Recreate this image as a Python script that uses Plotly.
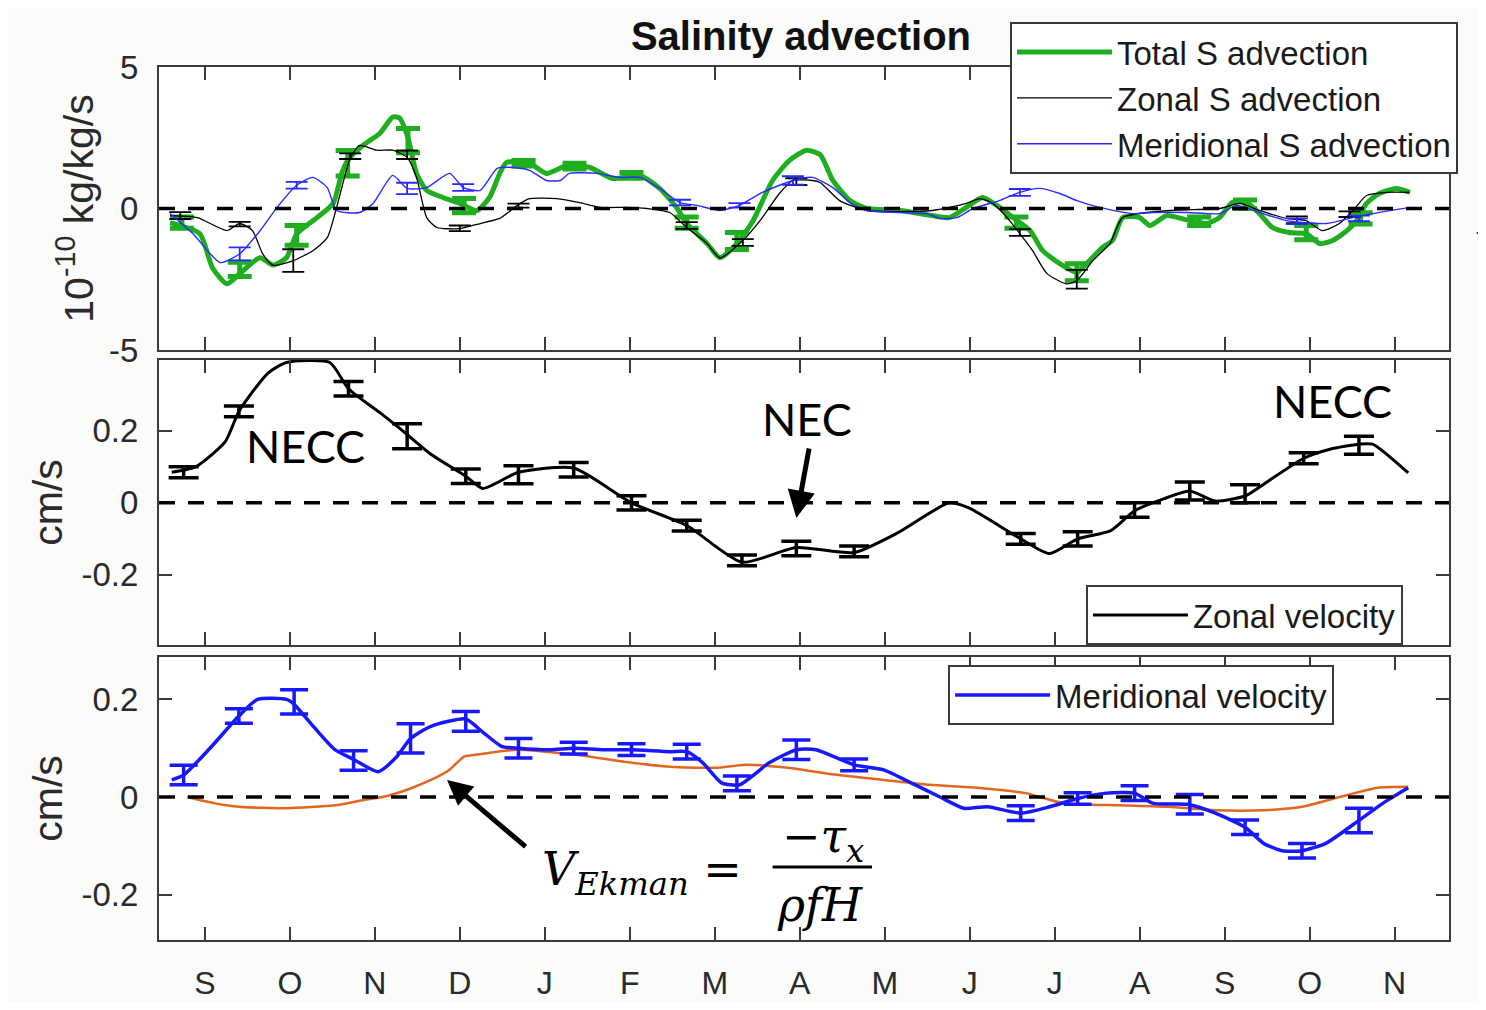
import plotly.graph_objects as go
from plotly.subplots import make_subplots

# ---------------- categories / ticks ----------------
month_labels = ["S", "O", "N", "D", "J", "F", "M", "A", "M", "J", "J", "A", "S", "O", "N"]
month_pos = list(range(len(month_labels)))

# ---------------- top panel: salinity advection (1e-10 kg/kg/s) ----------------
total_x = [-0.41, -0.06, 0.09, 0.26, 0.41, 0.65, 0.80, 0.96, 1.08, 1.32, 1.51, 1.61, 1.68, 1.86, 2.06,
           2.21, 2.29, 2.39, 2.49, 2.61, 2.80, 3.00, 3.20, 3.35, 3.47, 3.55, 3.82, 4.02, 4.26, 4.53,
           4.80, 5.12, 5.35, 5.55, 5.67, 5.91, 6.06, 6.26, 6.45, 6.68, 6.88, 7.08, 7.24, 7.39, 7.59,
           7.79, 8.18, 8.56, 8.76, 8.96, 9.15, 9.32, 9.51, 9.71, 9.86, 10.06, 10.26, 10.41, 10.56,
           10.68, 10.80, 11.00, 11.12, 11.32, 11.55, 11.79, 11.94, 12.09, 12.26, 12.41, 12.56, 12.76,
           12.96, 13.12, 13.27, 13.44, 13.55, 13.67, 13.82, 14.02, 14.18]
total_y = [-0.50, -0.89, -2.10, -2.66, -2.30, -1.74, -2.00, -1.74, -0.90, -0.32, 0.18, 1.24, 1.70, 2.23, 2.66,
           3.23, 3.20, 2.50, 1.24, 0.64, 0.39, 0.18, -0.07, 0.39, 1.24, 1.63, 1.60, 1.24, 1.52, 1.45,
           1.06, 1.17, 0.71, 0.04, -0.53, -1.24, -1.74, -1.24, -0.43, 0.99, 1.70, 2.06, 1.90, 0.99, 0.28,
           0.00, -0.07, -0.25, -0.32, 0.04, 0.39, 0.11, -0.32, -0.78, -1.49, -1.95, -2.25, -1.84, -1.38,
           -1.13, -0.32, -0.32, -0.60, -0.25, -0.40, -0.53, -0.32, 0.21, 0.21, -0.18, -0.67, -0.85,
           -0.89, -1.24, -1.13, -0.78, -0.43, 0.18, 0.53, 0.71, 0.57]
total_err_x = [-0.27, 0.41, 1.08, 1.68, 2.39, 3.05, 3.75, 4.35, 5.02, 5.67, 6.26, 9.55, 10.26, 11.70, 12.24, 12.96, 13.60]
total_err_y = [-0.50, -2.15, -0.95, 1.60, 2.40, 0.10, 1.60, 1.50, 1.17, -0.50, -1.15, -0.50, -2.25, -0.45, 0.15, -0.85, -0.35]
total_err_e = [0.20, 0.25, 0.35, 0.45, 0.43, 0.25, 0.10, 0.10, 0.10, 0.20, 0.30, 0.20, 0.30, 0.15, 0.15, 0.25, 0.20]

zonal_x = [-0.41, -0.09, 0.26, 0.41, 0.56, 0.68, 0.80, 1.04, 1.27, 1.44, 1.55, 1.71, 1.82, 2.02, 2.21,
           2.38, 2.49, 2.61, 2.73, 3.00, 3.24, 3.47, 3.55, 3.71, 3.82, 4.14, 4.41, 4.65, 4.96, 5.20,
           5.47, 5.67, 5.91, 6.06, 6.33, 6.56, 6.76, 6.92, 7.15, 7.24, 7.47, 7.79, 8.56, 8.96, 9.12,
           9.27, 9.44, 9.59, 9.74, 9.91, 10.14, 10.26, 10.45, 10.65, 10.80, 11.35, 11.94, 12.18, 12.41,
           12.73, 12.96, 13.15, 13.35, 13.51, 13.67, 13.91, 14.18]
zonal_y = [-0.25, -0.32, -0.78, -0.53, -0.78, -1.60, -2.00, -1.84, -1.49, -1.03, 0.04, 1.77, 2.23, 2.06, 2.06,
           1.80, 1.10, -0.32, -0.67, -0.71, -0.53, -0.35, -0.18, 0.18, 0.35, 0.35, 0.21, 0.04, 0.04, 0.00,
           -0.14, -0.67, -1.24, -1.74, -1.13, -0.32, 0.53, 0.99, 0.99, 0.92, 0.28, -0.07, -0.07, 0.18, 0.35,
           0.18, -0.32, -0.89, -1.49, -2.30, -2.66, -2.55, -1.84, -1.24, -0.32, -0.07, 0.00, 0.18, -0.07,
           -0.35, -0.43, -0.78, -0.53, -0.07, 0.46, 0.57, 0.57]
zonal_err_x = [-0.29, 0.41, 1.04, 1.71, 2.38, 3.00, 3.69, 5.67, 6.33, 6.96, 9.59, 10.26, 12.85, 13.47]
zonal_err_y = [-0.25, -0.55, -1.84, 1.85, 1.90, -0.70, 0.10, -0.60, -1.20, 0.95, -0.85, -2.50, -0.40, -0.20]
zonal_err_e = [0.12, 0.08, 0.40, 0.10, 0.15, 0.10, 0.07, 0.12, 0.12, 0.12, 0.12, 0.33, 0.12, 0.10]

merid_x = [-0.41, -0.14, 0.18, 0.41, 0.65, 0.85, 1.08, 1.27, 1.44, 1.55, 1.82, 1.98, 2.21, 2.38, 2.61,
           2.88, 3.04, 3.24, 3.44, 3.62, 3.82, 4.02, 4.18, 4.29, 4.61, 4.88, 5.12, 5.35, 5.59, 5.79,
           6.06, 6.29, 6.56, 6.92, 7.15, 7.39, 7.59, 7.79, 8.18, 8.49, 8.65, 8.85, 9.04, 9.35, 9.59,
           9.82, 10.06, 10.26, 10.53, 10.92, 11.15, 11.55, 11.94, 12.14, 12.41, 12.73, 12.96, 13.20,
           13.51, 13.74, 14.18]
merid_y = [-0.18, -0.89, -1.91, -1.60, -0.78, 0.04, 0.82, 1.10, 0.74, -0.07, -0.14, 0.18, 1.17, 0.71, 0.74,
           1.24, 0.74, 0.64, 1.42, 1.45, 1.35, 0.99, 0.99, 1.24, 1.24, 1.10, 1.10, 0.71, 0.21, 0.11,
           -0.07, 0.11, 0.57, 0.99, 1.10, 0.74, 0.21, -0.07, -0.14, -0.18, -0.35, -0.32, 0.00, 0.28, 0.57,
           0.71, 0.53, 0.28, 0.04, -0.18, -0.14, -0.14, -0.18, 0.11, -0.14, -0.43, -0.50, -0.53,
           -0.32, -0.18, 0.04]
merid_err_x = [0.41, 1.08, 2.38, 3.04, 5.59, 6.29, 6.92, 9.59, 12.85, 13.58]
merid_err_y = [-1.60, 0.82, 0.71, 0.74, 0.21, 0.11, 0.99, 0.57, -0.45, -0.35]
merid_err_e = [0.23, 0.12, 0.20, 0.12, 0.10, 0.08, 0.15, 0.12, 0.10, 0.10]

# ---------------- middle panel: zonal velocity (cm/s) ----------------
u_x = [-0.39, -0.11, 0.24, 0.40, 0.74, 0.96, 1.47, 1.69, 2.09, 2.38, 2.66, 3.07, 3.27, 3.69, 4.34,
       5.02, 5.67, 6.32, 6.96, 7.64, 8.14, 8.76, 8.99, 9.60, 9.94, 10.27, 10.66, 10.94, 11.28, 11.59,
       11.89, 12.24, 12.46, 12.93, 13.24, 13.58, 13.74, 14.16]
u_y = [0.085, 0.10, 0.17, 0.254, 0.36, 0.39, 0.39, 0.317, 0.245, 0.19, 0.135, 0.074, 0.04, 0.085, 0.097,
       0.0, -0.063, -0.165, -0.124, -0.138, -0.085, 0.0, -0.014, -0.10, -0.141, -0.10, -0.077, -0.022, 0.011, 0.033,
       0.005, 0.019, 0.052, 0.124, 0.149, 0.163, 0.163, 0.083]
u_err_x = [-0.25, 0.40, 1.69, 2.38, 3.07, 3.69, 4.34, 5.02, 5.67, 6.32, 6.96, 7.64, 9.60, 10.27, 10.94,
           11.59, 12.24, 12.93, 13.58]
u_err_y = [0.085, 0.254, 0.317, 0.185, 0.074, 0.078, 0.092, 0.0, -0.063, -0.16, -0.127, -0.135, -0.10, -0.10, -0.02,
           0.033, 0.025, 0.124, 0.16]
u_err_e = [0.015, 0.015, 0.02, 0.035, 0.02, 0.025, 0.02, 0.02, 0.015, 0.015, 0.02, 0.015, 0.015, 0.02, 0.02,
           0.025, 0.025, 0.015, 0.025]

# ---------------- bottom panel: meridional velocity and Ekman (cm/s) ----------------
v_x = [-0.39, -0.25, 0.06, 0.40, 0.62, 0.96, 1.05, 1.25, 1.53, 1.75, 2.04, 2.26, 2.42, 2.66, 3.07,
       3.27, 3.49, 3.69, 4.06, 4.34, 4.68, 5.02, 5.47, 5.67, 5.86, 6.08, 6.29, 6.64, 6.96, 7.19,
       7.64, 7.98, 8.31, 8.65, 8.93, 9.21, 9.60, 9.94, 10.27, 10.61, 10.94, 11.16, 11.56, 11.89, 12.24,
       12.46, 12.68, 12.91, 13.19, 13.58, 13.86, 14.16]
v_y = [0.035, 0.045, 0.10, 0.166, 0.20, 0.20, 0.19, 0.15, 0.097, 0.077, 0.052, 0.083, 0.12, 0.145, 0.16,
       0.133, 0.104, 0.10, 0.097, 0.10, 0.097, 0.097, 0.093, 0.093, 0.07, 0.029, 0.025, 0.07, 0.097, 0.097,
       0.066, 0.056, 0.029, 0.0, -0.023, -0.02, -0.033, -0.02, -0.003, 0.008, 0.008, -0.013, -0.015, -0.033, -0.062,
       -0.095, -0.11, -0.11, -0.095, -0.048, -0.013, 0.019]
v_err_x = [-0.25, 0.40, 1.05, 1.75, 2.42, 3.07, 3.69, 4.34, 5.02, 5.67, 6.26, 6.96, 7.64, 9.60, 10.27,
           10.94, 11.59, 12.24, 12.91, 13.58]
v_err_y = [0.045, 0.166, 0.195, 0.075, 0.12, 0.155, 0.10, 0.10, 0.097, 0.093, 0.028, 0.097, 0.066, -0.033, -0.003,
           0.008, -0.015, -0.062, -0.11, -0.048]
v_err_e = [0.02, 0.015, 0.025, 0.02, 0.03, 0.02, 0.02, 0.012, 0.012, 0.015, 0.015, 0.02, 0.012, 0.015, 0.012,
           0.015, 0.02, 0.015, 0.015, 0.025]

ek_x = [-0.21, 0.12, 0.40, 0.96, 1.53, 1.87, 2.09, 2.38, 2.66, 2.88, 3.05, 3.21, 3.67, 4.34, 4.91,
        5.47, 6.04, 6.36, 6.86, 7.41, 7.98, 8.53, 9.09, 9.66, 10.11, 10.78, 11.34, 11.89, 12.46, 12.91,
        13.35, 13.80, 14.16]
ek_y = [0.0, -0.013, -0.02, -0.023, -0.017, -0.006, 0.0, 0.015, 0.035, 0.056, 0.083, 0.087, 0.097, 0.087, 0.073,
        0.062, 0.06, 0.066, 0.06, 0.046, 0.035, 0.025, 0.019, 0.008, -0.013, -0.017, -0.02, -0.027, -0.027, -0.02,
        0.0, 0.019, 0.021]

# ---------------- styling ----------------
FONT = "Liberation Sans, Arial, sans-serif"
GREEN = "#1fae1f"
BLUE_THIN = "#2a2aff"
BLUE = "#1818ff"
ORANGE = "#e3661f"
AXC = "#3a3a3a"
TXT = "#2a2a2a"
FIG_W, FIG_H = 1478, 994   # page body keeps an 8 px margin

fig = make_subplots(rows=3, cols=1, shared_xaxes=True)


def add_err(x, y, e, color, thick, width, row):
    fig.add_trace(go.Scatter(x=x, y=y, mode="markers", marker=dict(size=1, color=color),
                             error_y=dict(type="data", array=e, color=color, thickness=thick, width=width),
                             showlegend=False, hoverinfo="skip"), row=row, col=1)


# top panel
fig.add_trace(go.Scatter(x=total_x, y=total_y, mode="lines", name="Total S advection",
                         line=dict(color=GREEN, width=5, shape="spline", smoothing=0.6), legend="legend"), row=1, col=1)
add_err(total_err_x, total_err_y, total_err_e, GREEN, 5, 12, 1)
fig.add_trace(go.Scatter(x=zonal_x, y=zonal_y, mode="lines", name="Zonal S advection",
                         line=dict(color="black", width=1.3, shape="spline", smoothing=0.6), legend="legend"), row=1, col=1)
add_err(zonal_err_x, zonal_err_y, zonal_err_e, "black", 1.8, 11, 1)
fig.add_trace(go.Scatter(x=merid_x, y=merid_y, mode="lines", name="Meridional S advection",
                         line=dict(color=BLUE_THIN, width=1.4, shape="spline", smoothing=0.6), legend="legend"), row=1, col=1)
add_err(merid_err_x, merid_err_y, merid_err_e, BLUE_THIN, 1.8, 11, 1)

# middle panel
fig.add_trace(go.Scatter(x=u_x, y=u_y, mode="lines", name="Zonal velocity",
                         line=dict(color="black", width=3, shape="spline", smoothing=0.6), legend="legend2"), row=2, col=1)
add_err(u_err_x, u_err_y, u_err_e, "black", 3.5, 15, 2)

# bottom panel
fig.add_trace(go.Scatter(x=ek_x, y=ek_y, mode="lines", name="Ekman",
                         line=dict(color=ORANGE, width=2.5, shape="spline", smoothing=0.6), showlegend=False), row=3, col=1)
fig.add_trace(go.Scatter(x=v_x, y=v_y, mode="lines", name="Meridional velocity",
                         line=dict(color=BLUE, width=3.5, shape="spline", smoothing=0.6), legend="legend3"), row=3, col=1)
add_err(v_err_x, v_err_y, v_err_e, BLUE, 3.5, 14, 3)

# axes
xcommon = dict(range=[-0.54, 14.64], tickmode="array", tickvals=month_pos, ticktext=month_labels,
               ticks="inside", ticklen=13, tickwidth=2, tickcolor=AXC, showline=True, linewidth=2,
               linecolor=AXC, mirror="ticks", showgrid=False, zeroline=False, automargin=False,
               tickfont=dict(family=FONT, size=32, color=TXT))
fig.update_xaxes(**xcommon)
fig.update_xaxes(showticklabels=False, row=1, col=1)
fig.update_xaxes(showticklabels=False, row=2, col=1)
fig.update_xaxes(ticklabelstandoff=14, row=3, col=1)

ycommon = dict(ticks="inside", ticklen=13, tickwidth=2, tickcolor=AXC, showline=True, linewidth=2,
               linecolor=AXC, mirror="ticks", showgrid=False, zeroline=False, ticklabelstandoff=12,
               tickfont=dict(family=FONT, size=33, color=TXT), automargin=False)
fig.update_yaxes(**ycommon)
fig.update_yaxes(range=[-5, 5], tickvals=[-5, 0, 5], ticktext=["-5", "0", "5"], domain=[0.6758, 1.0],
                 title=dict(text="10<sup>-10</sup> kg/kg/s", font=dict(family=FONT, size=41, color=TXT), standoff=3),
                 row=1, col=1)
fig.update_yaxes(range=[-0.395, 0.397], tickvals=[-0.2, 0, 0.2], ticktext=["-0.2", "0", "0.2"], domain=[0.3379, 0.6644],
                 title=dict(text="cm/s", font=dict(family=FONT, size=41, color=TXT), standoff=6),
                 row=2, col=1)
fig.update_yaxes(range=[-0.293, 0.287], tickvals=[-0.2, 0, 0.2], ticktext=["-0.2", "0", "0.2"], domain=[0.0, 0.3242],
                 title=dict(text="cm/s", font=dict(family=FONT, size=41, color=TXT), standoff=6),
                 row=3, col=1)

# dashed zero lines
for xr, yr in [("x domain", "y"), ("x2 domain", "y2"), ("x3 domain", "y3")]:
    fig.add_shape(type="line", xref=xr, yref=yr, x0=0, x1=1, y0=0, y1=0,
                  line=dict(color="black", width=3.5, dash="16px,13px"))

# Ekman fraction bar
fig.add_shape(type="line", xref="x3", yref="y3", x0=6.68, x1=7.85, y0=-0.1436, y1=-0.1436,
              line=dict(color="black", width=3))

LBL = "Lato, Open Sans, sans-serif"
MATH = "DejaVu Serif, serif"
annotations = [
    dict(x=1.18, y=0.157, xref="x2", yref="y2", text="NECC", showarrow=False,
         font=dict(family=LBL, size=45, color="black")),
    dict(x=7.09, y=0.232, xref="x2", yref="y2", text="NEC", showarrow=False,
         font=dict(family=LBL, size=45, color="black")),
    dict(x=13.27, y=0.283, xref="x2", yref="y2", text="NECC", showarrow=False,
         font=dict(family=LBL, size=45, color="black")),
    dict(x=6.96, y=-0.042, xref="x2", yref="y2", text="", showarrow=True, arrowhead=2,
         arrowsize=1.1, arrowwidth=5, arrowcolor="black", ax=13, ay=-71),
    dict(x=2.85, y=0.035, xref="x3", yref="y3", text="", showarrow=True, arrowhead=2,
         arrowsize=1, arrowwidth=5, arrowcolor="black", ax=80, ay=68),
    dict(x=3.94, y=-0.154, xref="x3", yref="y3", xanchor="left", yanchor="middle",
         text="<i>V</i><sub><i>Ekman</i></sub> =", showarrow=False,
         font=dict(family=MATH, size=46, color="black")),
    dict(x=7.27, y=-0.088, xref="x3", yref="y3", text="\u2212<i>\u03c4</i><sub><i>x</i></sub>", showarrow=False,
         font=dict(family=MATH, size=46, color="black")),
    dict(x=7.235, y=-0.2215, xref="x3", yref="y3", text="<i>\u03c1fH</i>", showarrow=False,
         font=dict(family=MATH, size=46, color="black")),
    dict(x=1.0209, y=0.8099, xref="paper", yref="paper", text="", showarrow=True, arrowhead=2,
         arrowsize=1, arrowwidth=3, arrowcolor="black", ax=30, ay=0),
]

legend_style = dict(font=dict(family=FONT, size=33, color="#1a1a1a"), bgcolor="white",
                    bordercolor=AXC, borderwidth=2, yanchor="top",
                    tracegroupgap=0, itemclick=False, itemwidth=95)

fig.update_layout(
    width=FIG_W, height=FIG_H,
    margin=dict(l=151, r=37, t=59, b=62),
    paper_bgcolor="#fbfbfa", plot_bgcolor="white",
    font=dict(family=FONT, color=TXT),
    title=dict(text="<b>Salinity advection</b>", x=793 / FIG_W, xref="container", xanchor="center",
               y=1 - 28 / FIG_H, yref="container", yanchor="middle",
               font=dict(family=FONT, size=40, color="#111")),
    legend=dict(x=0.6597, y=1.0515, xanchor="left", **legend_style),
    legend2=dict(x=0.9643, y=0.4066, xanchor="right", **legend_style),
    legend3=dict(x=0.9109, y=0.3150, xanchor="right", **legend_style),
    annotations=annotations,
)

fig.write_html("out.html")
